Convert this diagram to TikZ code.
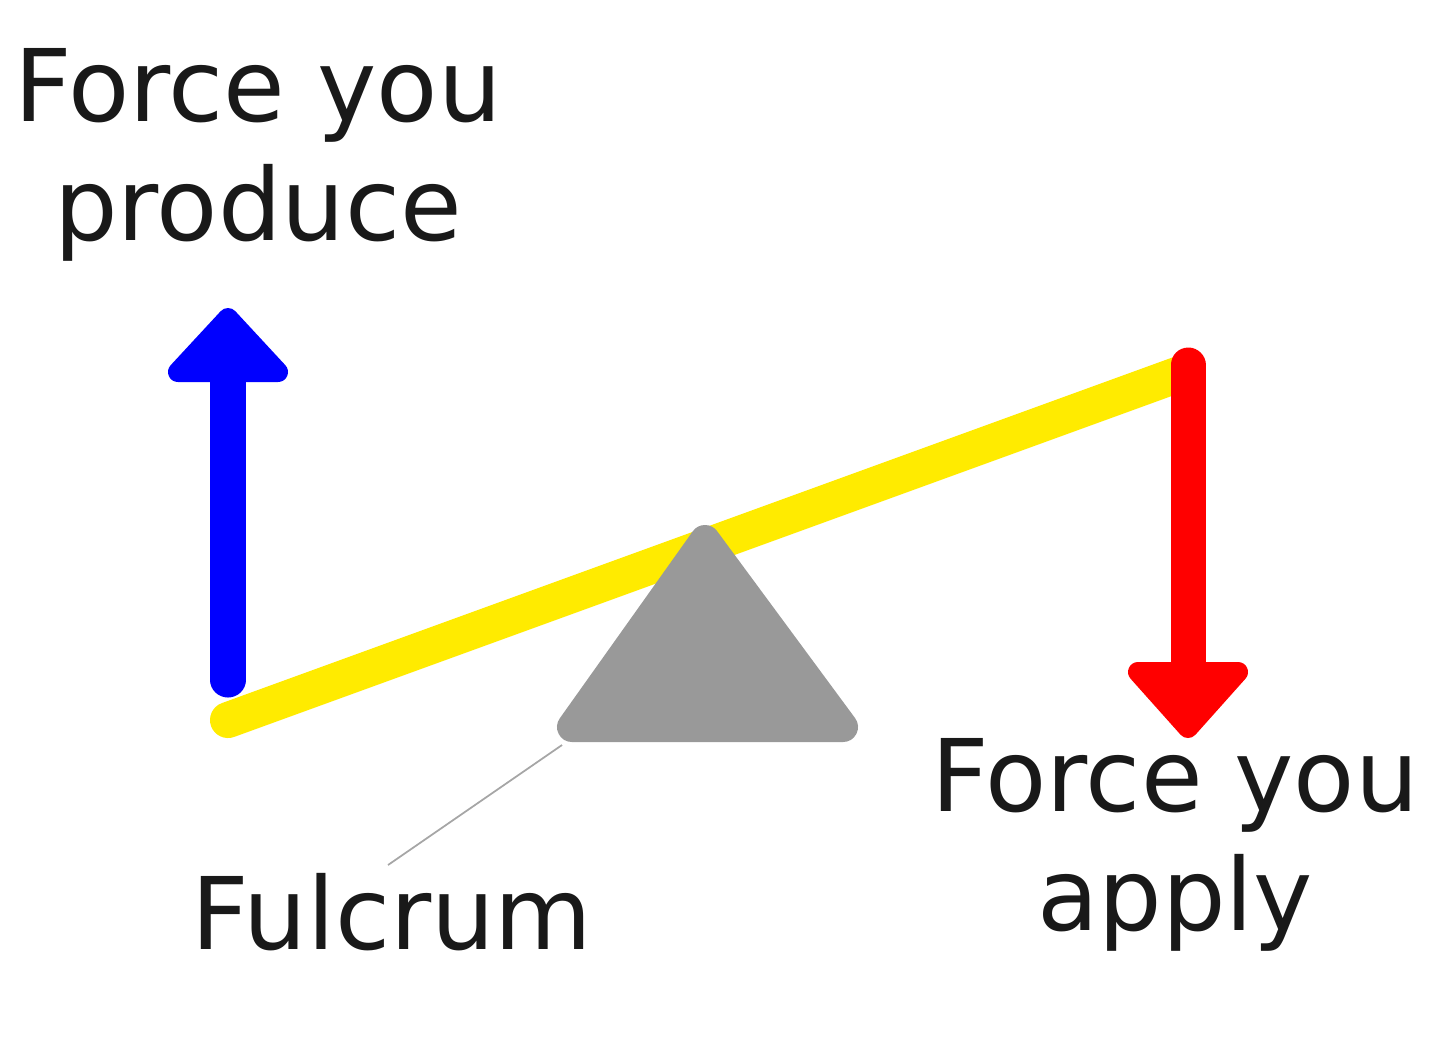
\documentclass[tikz,border=0pt]{standalone}
\usepackage{fontspec}
\setmainfont{DejaVu Sans}
\begin{document}
\begin{tikzpicture}[x=0.01cm,y=-0.01cm,
  lbl/.style={font=\fontsize{28.5}{34}\selectfont,align=center,text=black!90},
  headstyle/.style={line width=0.2cm,line join=round},
  shaft/.style={line width=0.35cm,line cap=round}]
\useasboundingbox (0,0) rectangle (1440,1041);
\coordinate (bl) at (228,720);
\coordinate (br) at (1185,372);
\draw[yellow!90!orange!60!yellow,color={rgb,255:red,255;green,235;blue,0},line width=0.36cm,line cap=round] (bl) -- (br);
% fulcrum
\coordinate (fa) at (705,540);
\coordinate (fl) at (572,727);
\coordinate (fr) at (843,727);
\filldraw[color={rgb,255:red,153;green,153;blue,153},line width=0.3cm,line join=round] (fa) -- (fl) -- (fr) -- cycle;
% blue arrow
\coordinate (bs) at (228,680);
\coordinate (bt) at (228,372);
\draw[shaft,blue] (bs) -- (bt);
\filldraw[headstyle,blue] (228,318) -- (178,372) -- (278,372) -- cycle;
% red arrow
\coordinate (rs) at (1188,365);
\coordinate (rt) at (1188,675);
\draw[shaft,red] (rs) -- (rt);
\filldraw[headstyle,red] (1188,728) -- (1138,672) -- (1238,672) -- cycle;
% labels
\node[lbl] (prod) at (258,155) {Force you\\produce};
\node[lbl] (apply) at (1175,845) {Force you\\apply};
\node[lbl] (fulc) at (392,912) {Fulcrum};
\coordinate (fp) at (562,745);
\coordinate (fe) at (388,865);
\draw[gray!70,line width=0.5pt] (fp) -- (fe);
\end{tikzpicture}
\end{document}
